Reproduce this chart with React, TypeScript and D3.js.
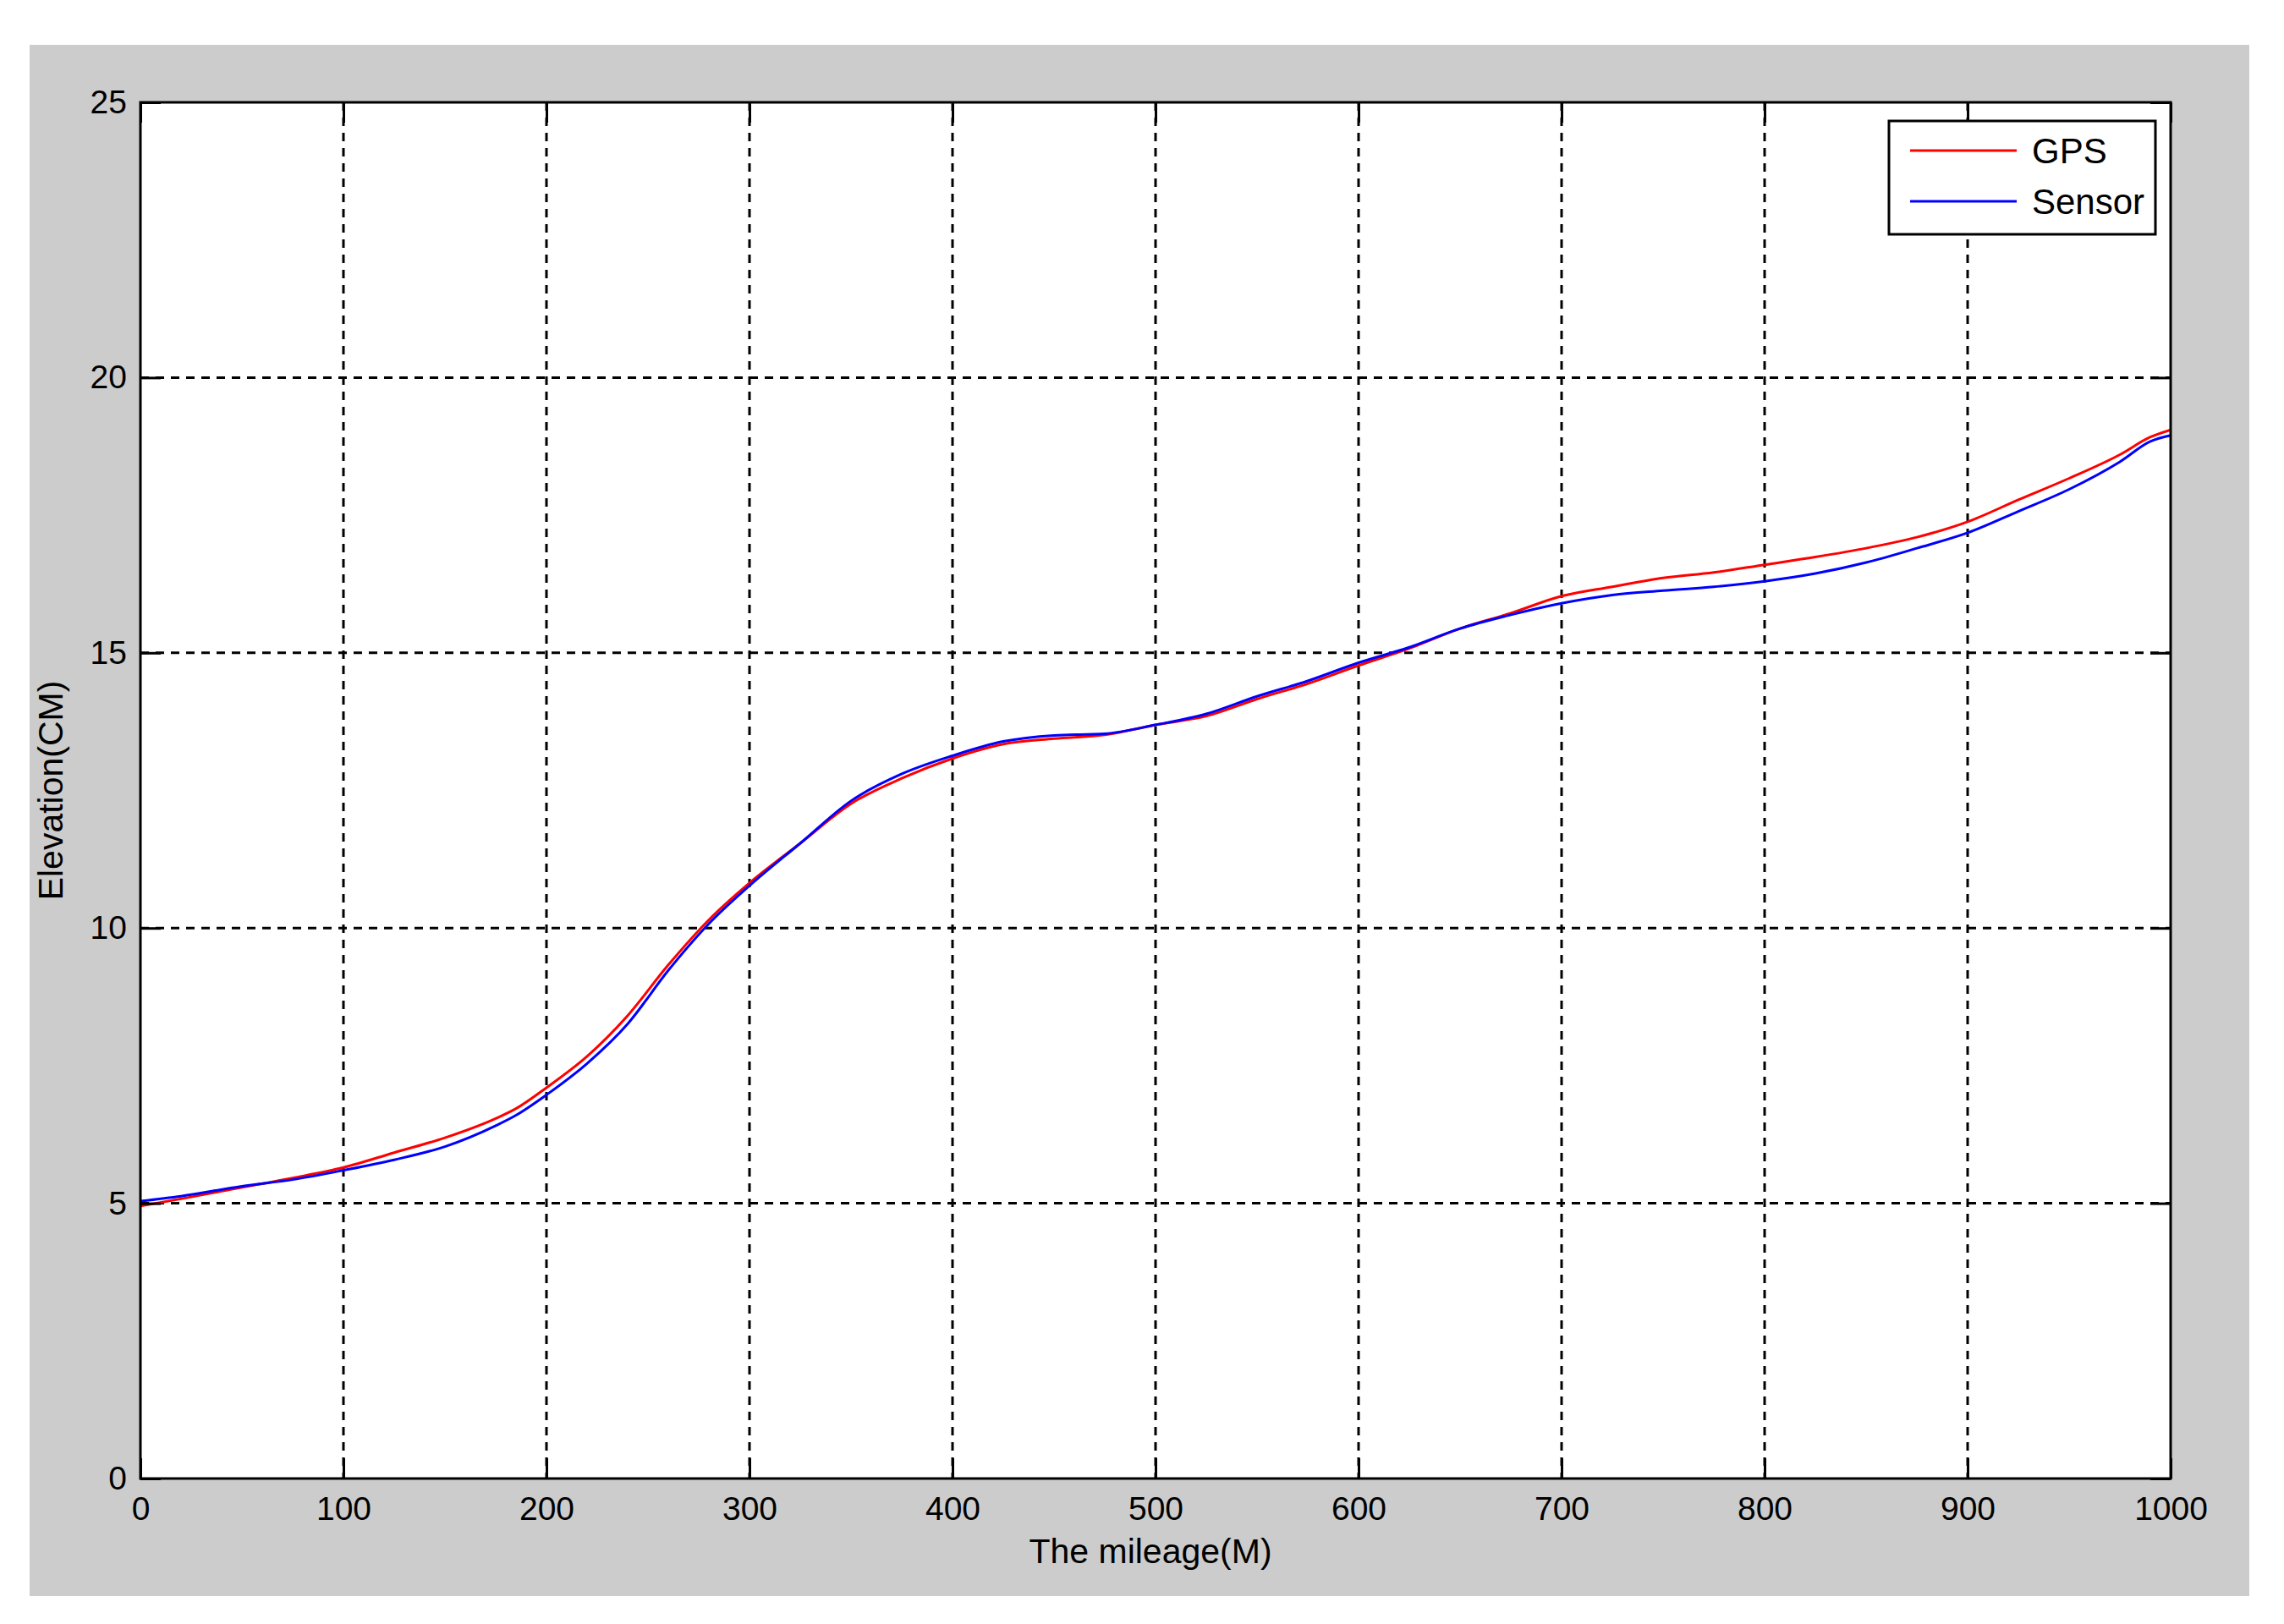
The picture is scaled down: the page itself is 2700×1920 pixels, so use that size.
import React, { useEffect, useRef } from 'react';
import * as d3 from 'd3';

// mileage samples (M)
const mileage = [
  0, 20, 50, 75, 100, 125, 150, 175, 185, 200, 220, 240, 260, 280, 300, 325,
  350, 375, 400, 425, 450, 475, 500, 525, 550, 575, 600, 625, 650, 675, 700,
  725, 750, 775, 800, 825, 850, 875, 900, 925, 950, 975, 990, 1000,
];

const gpsElevation = [
  4.95, 5.08, 5.29, 5.46, 5.65, 5.92, 6.19, 6.54, 6.72, 7.1, 7.67, 8.41, 9.33,
  10.15, 10.82, 11.54, 12.26, 12.72, 13.08, 13.34, 13.44, 13.51, 13.69, 13.85,
  14.16, 14.44, 14.77, 15.08, 15.44, 15.72, 16.03, 16.2, 16.36, 16.46, 16.6,
  16.74, 16.9, 17.1, 17.38, 17.78, 18.17, 18.6, 18.92, 19.05,
];

const sensorElevation = [
  5.04, 5.13, 5.31, 5.43, 5.6, 5.79, 6.03, 6.41, 6.6, 6.97, 7.54, 8.26, 9.23,
  10.08, 10.77, 11.54, 12.31, 12.8, 13.13, 13.39, 13.5, 13.53, 13.69, 13.89,
  14.21, 14.49, 14.82, 15.1, 15.44, 15.69, 15.9, 16.05, 16.13, 16.2, 16.3,
  16.44, 16.64, 16.9, 17.18, 17.57, 17.97, 18.47, 18.84, 18.95,
];

const xTicks = [0, 100, 200, 300, 400, 500, 600, 700, 800, 900, 1000];
const yTicks = [0, 5, 10, 15, 20, 25];

const seriesNames = ['GPS', 'Sensor'];
const seriesColors = ['#ff0000', '#0000ff'];

interface Point {
  x: number;
  y: number;
}

const FONT = "'Liberation Sans', Arial, Helvetica, sans-serif";

const App: React.FC = () => {
  const chartRef = useRef<SVGSVGElement | null>(null);

  useEffect(() => {
    const W = 2700;
    const H = 1920;
    const plot = { left: 166, top: 121, right: 2566, bottom: 1748 };

    const svg = d3.select(chartRef.current);
    svg.selectAll('*').remove();
    svg.attr('width', W).attr('height', H);

    // figure background
    svg.append('rect').attr('width', W).attr('height', H).attr('fill', '#ffffff');
    svg
      .append('rect')
      .attr('x', 35)
      .attr('y', 53)
      .attr('width', 2624)
      .attr('height', 1834)
      .attr('fill', '#cccccc');

    const x = d3.scaleLinear().domain([0, 1000]).range([plot.left, plot.right]);
    const y = d3.scaleLinear().domain([0, 25]).range([plot.bottom, plot.top]);

    svg
      .append('rect')
      .attr('x', plot.left)
      .attr('y', plot.top)
      .attr('width', plot.right - plot.left)
      .attr('height', plot.bottom - plot.top)
      .attr('fill', '#ffffff');

    // dashed grid
    const grid = svg
      .append('g')
      .attr('stroke', '#000')
      .attr('stroke-width', 3)
      .attr('stroke-dasharray', '10,8');
    grid
      .selectAll('line.gx')
      .data(xTicks.slice(1, -1))
      .join('line')
      .attr('x1', (d) => x(d))
      .attr('x2', (d) => x(d))
      .attr('y1', plot.top)
      .attr('y2', plot.bottom);
    grid
      .selectAll('line.gy')
      .data(yTicks.slice(1, -1))
      .join('line')
      .attr('x1', plot.left)
      .attr('x2', plot.right)
      .attr('y1', (d) => y(d))
      .attr('y2', (d) => y(d));

    // data lines
    const line = d3
      .line<Point>()
      .x((d) => x(d.x))
      .y((d) => y(d.y))
      .curve(d3.curveMonotoneX);

    const series = [gpsElevation, sensorElevation];
    series.forEach((vals, i) => {
      const pts: Point[] = mileage.map((m, j) => ({ x: m, y: vals[j] }));
      svg
        .append('path')
        .datum(pts)
        .attr('fill', 'none')
        .attr('stroke', seriesColors[i])
        .attr('stroke-width', 3)
        .attr('d', line);
    });

    // axes with inward ticks, MATLAB style
    const tickLen = 24;
    const fmt = d3.format('d');
    const styleAxis = (g: d3.Selection<SVGGElement, unknown, null, undefined>) => {
      g.select('.domain').remove();
      g.selectAll('.tick line').attr('stroke', '#000').attr('stroke-width', 3);
      g.selectAll('.tick text')
        .attr('fill', '#000')
        .attr('font-family', FONT)
        .attr('font-size', 39);
    };

    svg
      .append('g')
      .attr('transform', `translate(0,${plot.bottom})`)
      .call(
        d3
          .axisBottom(x)
          .tickValues(xTicks)
          .tickFormat((d) => fmt(d as number))
          .tickSizeInner(-tickLen)
          .tickSizeOuter(0)
          .tickPadding(21)
      )
      .call(styleAxis);

    svg
      .append('g')
      .attr('transform', `translate(${plot.left},0)`)
      .call(
        d3
          .axisLeft(y)
          .tickValues(yTicks)
          .tickFormat((d) => fmt(d as number))
          .tickSizeInner(-tickLen)
          .tickSizeOuter(0)
          .tickPadding(16)
      )
      .call(styleAxis);

    svg
      .append('g')
      .attr('transform', `translate(0,${plot.top})`)
      .call(d3.axisTop(x).tickValues(xTicks).tickSizeInner(-tickLen).tickSizeOuter(0).tickFormat(() => ''))
      .call(styleAxis);

    svg
      .append('g')
      .attr('transform', `translate(${plot.right},0)`)
      .call(d3.axisRight(y).tickValues(yTicks).tickSizeInner(-tickLen).tickSizeOuter(0).tickFormat(() => ''))
      .call(styleAxis);

    // axes box
    svg
      .append('rect')
      .attr('x', plot.left)
      .attr('y', plot.top)
      .attr('width', plot.right - plot.left)
      .attr('height', plot.bottom - plot.top)
      .attr('fill', 'none')
      .attr('stroke', '#000')
      .attr('stroke-width', 3);

    // axis labels
    svg
      .append('text')
      .attr('x', (plot.left + plot.right) / 2 - 6)
      .attr('y', 1848)
      .attr('text-anchor', 'middle')
      .attr('font-family', FONT)
      .attr('font-size', 41)
      .attr('fill', '#000')
      .text('The mileage(M)');

    svg
      .append('text')
      .attr('transform', `translate(74,${(plot.top + plot.bottom) / 2}) rotate(-90)`)
      .attr('text-anchor', 'middle')
      .attr('font-family', FONT)
      .attr('font-size', 41)
      .attr('fill', '#000')
      .text('Elevation(CM)');

    // legend
    const legend = svg.append('g');
    legend
      .append('rect')
      .attr('x', 2233)
      .attr('y', 143)
      .attr('width', 315)
      .attr('height', 134)
      .attr('fill', '#ffffff')
      .attr('stroke', '#000')
      .attr('stroke-width', 3);

    seriesNames.forEach((name, i) => {
      const ly = 178 + i * 60;
      legend
        .append('line')
        .attr('x1', 2258)
        .attr('x2', 2384)
        .attr('y1', ly)
        .attr('y2', ly)
        .attr('stroke', seriesColors[i])
        .attr('stroke-width', 3);
      legend
        .append('text')
        .attr('x', 2402)
        .attr('y', ly)
        .attr('dy', '0.35em')
        .attr('font-family', FONT)
        .attr('font-size', 42)
        .attr('fill', '#000')
        .text(name);
    });
  }, []);

  return (
    <div style={{ position: 'absolute', left: 0, top: 0 }}>
      <svg ref={chartRef} style={{ display: 'block' }}></svg>
    </div>
  );
};

export default App;
